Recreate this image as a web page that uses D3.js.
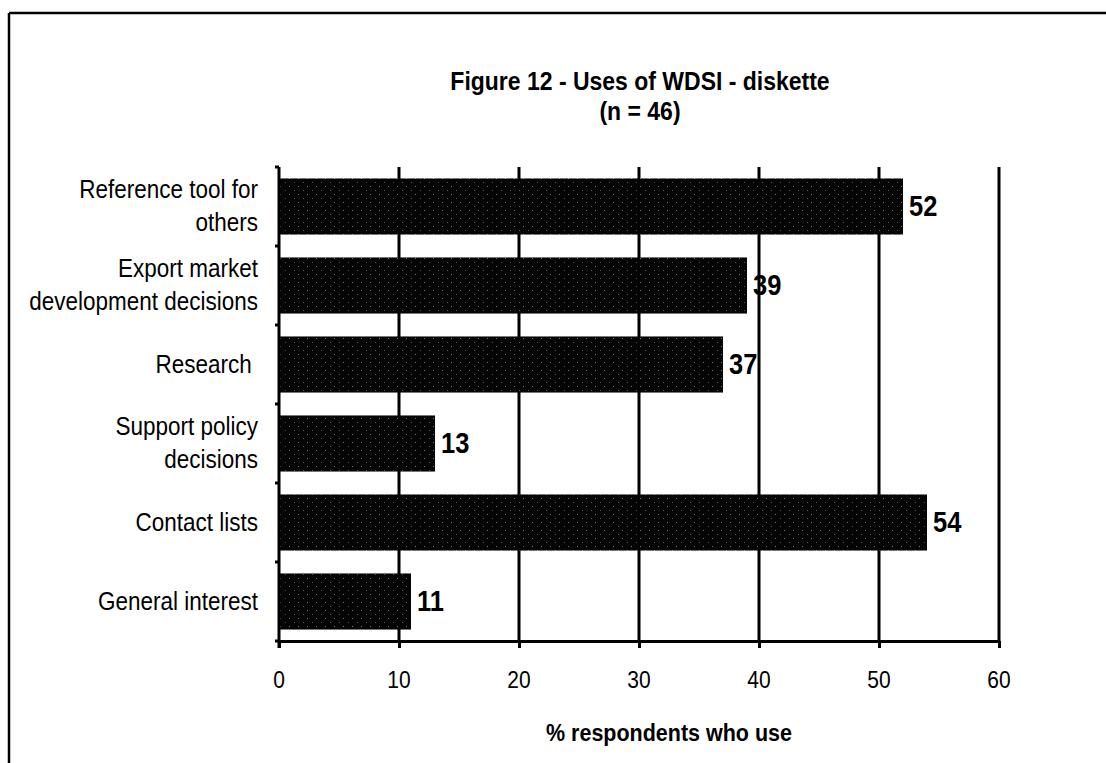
<!DOCTYPE html>
<html>
<head>
<meta charset="utf-8">
<script src="https://cdn.jsdelivr.net/npm/d3@7"></script>
<style>
  html, body { margin: 0; padding: 0; background: #fff; }
  svg { display: block; }
  text { font-family: "Liberation Sans", Arial, sans-serif; fill: #000; white-space: pre; }
</style>
</head>
<body>
<svg id="chart" width="1106" height="763"></svg>
<script>
// ---- data ----
const categories = [
  ["Reference tool for", "others"],
  ["Export market", "development decisions"],
  ["Research "],
  ["Support policy", "decisions"],
  ["Contact lists"],
  ["General interest"]
];
const values = [52, 39, 37, 13, 54, 11];
const xTicks = [0, 10, 20, 30, 40, 50, 60];
const titleLines = ["Figure 12 - Uses of WDSI - diskette", "(n = 46)"];
const xTitle = "% respondents who use";

(function () {
// ---- layout ----
const svg = d3.select("#chart");
const pLeft = 279, pRight = 999, pTop = 167, pBottom = 641;
const SY = 1.15; // vertical stretch of scanned text

const x = d3.scaleLinear().domain([0, 60]).range([pLeft, pRight]);
const y = d3.scaleBand().domain(d3.range(categories.length)).range([pTop, pBottom])
  .paddingInner(0.29).paddingOuter(0.145);
const yBand = d3.scaleBand().domain(d3.range(categories.length)).range([pTop, pBottom]);

function stretchedText(g, tx, ty, str, size, weight, anchor) {
  return g.append("text")
    .attr("transform", `translate(${tx},${ty}) scale(1,${SY})`)
    .attr("font-size", size)
    .attr("font-weight", weight)
    .attr("text-anchor", anchor)
    .text(str);
}

// pattern for speckled bars
const defs = svg.append("defs");
const pat = defs.append("pattern").attr("id", "speckle").attr("patternUnits", "userSpaceOnUse")
  .attr("width", 9).attr("height", 8);
pat.append("rect").attr("width", 9).attr("height", 8).attr("fill", "#050505");
pat.append("rect").attr("x", 1).attr("y", 2).attr("width", 1).attr("height", 1).attr("fill", "#777");
pat.append("rect").attr("x", 6).attr("y", 6).attr("width", 1).attr("height", 1).attr("fill", "#555");

// frame
svg.append("line").attr("x1", 9).attr("x2", 1106).attr("y1", 13).attr("y2", 13)
  .attr("stroke", "#000").attr("stroke-width", 2.5);
svg.append("line").attr("x1", 9).attr("x2", 9).attr("y1", 13).attr("y2", 763)
  .attr("stroke", "#000").attr("stroke-width", 2.5);

// title
stretchedText(svg, 640, 90, titleLines[0], 23, "bold", "middle");
stretchedText(svg, 640, 120, titleLines[1], 23, "bold", "middle");

// gridlines
svg.append("g").selectAll("line").data(xTicks.filter(d => d > 0)).join("line")
  .attr("x1", d => x(d)).attr("x2", d => x(d))
  .attr("y1", pTop).attr("y2", pBottom)
  .attr("stroke", "#000").attr("stroke-width", 3);

// bars
svg.append("g").selectAll("rect").data(values).join("rect")
  .attr("x", x(0)).attr("y", (d, i) => y(i))
  .attr("width", d => x(d) - x(0)).attr("height", y.bandwidth())
  .attr("fill", "url(#speckle)");

// x axis
const xAxis = svg.append("g").attr("transform", `translate(0,${pBottom})`)
  .call(d3.axisBottom(x).tickValues(xTicks).tickSize(7).tickSizeOuter(0).tickFormat(""));
xAxis.select(".domain").attr("stroke-width", 3).attr("stroke", "#000");
xAxis.selectAll(".tick line").attr("stroke-width", 3).attr("stroke", "#000");
xTicks.forEach(t => stretchedText(svg, x(t), 688, String(t), 21, "normal", "middle"));

// y axis
const yAxis = svg.append("g").attr("transform", `translate(${pLeft},0)`)
  .call(d3.axisLeft(yBand).tickValues([]).tickSizeOuter(0));
yAxis.select(".domain").attr("stroke-width", 3).attr("stroke", "#000")
  .attr("d", `M0,${pTop}V${pBottom + 7}`);
const yTickPos = d3.range(categories.length + 1).map(i => pTop + i * yBand.step());
svg.append("g").selectAll("line").data(yTickPos).join("line")
  .attr("x1", pLeft - 4).attr("x2", pLeft).attr("y1", d => d).attr("y2", d => d)
  .attr("stroke", "#000").attr("stroke-width", 3);

// category labels
categories.forEach((lines, i) => {
  const cy = yBand(i) + yBand.bandwidth() / 2;
  const n = lines.length;
  lines.forEach((ln, j) => {
    const off = (j - (n - 1) / 2) * 33;
    stretchedText(svg, 258, cy + off + 8, ln, 22.5, "normal", "end");
  });
});

// value labels
values.forEach((v, i) => {
  const cy = y(i) + y.bandwidth() / 2;
  stretchedText(svg, x(v) + 6, cy + 9, String(v), 25.5, "bold", "start");
});

// x title
stretchedText(svg, 669, 741, xTitle, 21.5, "bold", "middle");
})();
</script>
</body>
</html>
